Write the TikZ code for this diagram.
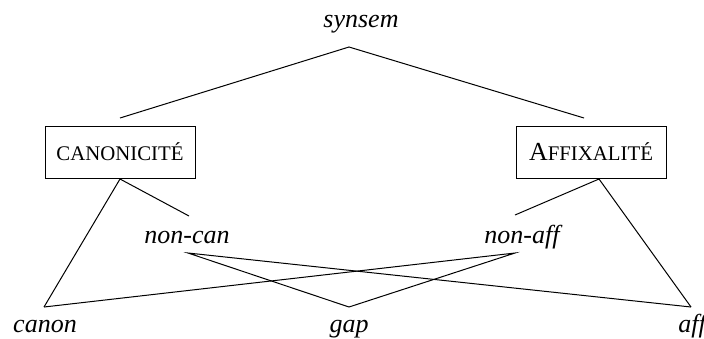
\documentclass[tikz,border=0pt]{standalone}
\usepackage{fontspec}
\setmainfont{Liberation Serif}
\newcommand{\fakesc}[1]{{\fontsize{10.4pt}{12pt}\selectfont #1}}
\tikzset{
  lab/.style={font=\itshape\fontsize{13pt}{15pt}\selectfont, anchor=base, inner sep=0pt},
  featbox/.style={draw, minimum width=75pt, minimum height=26pt, inner sep=0pt,
    font=\fontsize{13pt}{15pt}\selectfont},
}
\begin{document}
\begin{tikzpicture}[x=0.5pt,y=-0.5pt,line width=0.5pt]
\useasboundingbox (0,0) rectangle (704,338);
% labels
\node[lab] (synsem) at (361,27) {synsem};
\node[featbox] (canbox) at (120,152) {\fakesc{CANONICITÉ}};
\node[featbox] (affbox) at (591,152) {A\fakesc{FFIXALITÉ}};
\node[lab] (noncan) at (187,243) {non-can};
\node[lab] (nonaff) at (522,243) {non-aff};
\node[lab] (canon) at (45,332) {canon};
\node[lab] (gap) at (349,332) {gap};
\node[lab] (aff) at (692,332) {aff};
% branch points
\coordinate (synsemlow) at (349,47);
\coordinate (canup) at (120,118);
\coordinate (affup) at (584,118);
\coordinate (canlow) at (120,179);
\coordinate (afflow) at (599,179);
\coordinate (noncanup) at (189,216);
\coordinate (nonaffup) at (515,215);
\coordinate (noncanlow) at (188,253);
\coordinate (nonafflow) at (515,253);
\coordinate (canonup) at (44,307);
\coordinate (gapup) at (349,307);
\coordinate (affleafup) at (691,307);
% tree
\draw (canup)--(synsemlow)--(affup);
\draw (canonup)--(canlow)--(noncanup);
\draw (nonaffup)--(afflow)--(affleafup);
\draw (gapup)--(noncanlow)--(affleafup);
\draw (gapup)--(nonafflow)--(canonup);
\end{tikzpicture}
\end{document}
